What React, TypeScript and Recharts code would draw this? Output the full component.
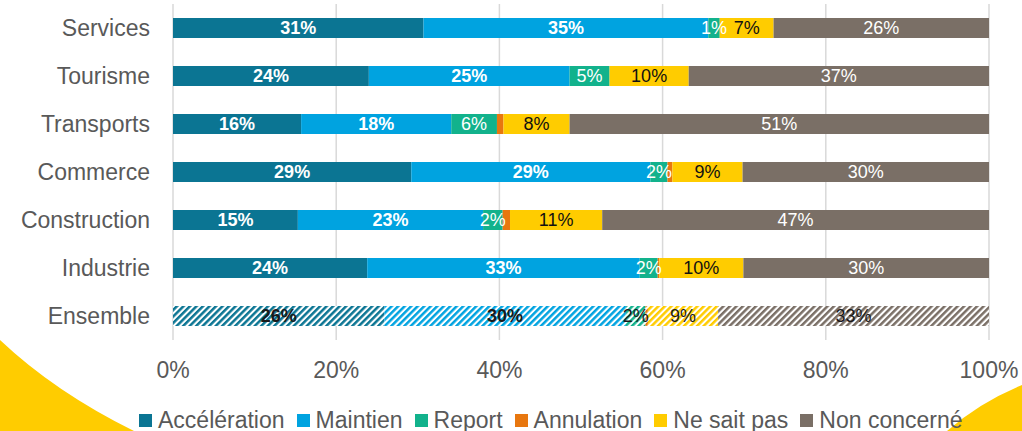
import { Bar, BarChart, CartesianGrid, Cell, LabelList, Legend, XAxis, YAxis } from "recharts";

const categories = ["Services", "Tourisme", "Transports", "Commerce", "Construction", "Industrie", "Ensemble"];
const acceleration = [30.7, 24.0, 15.7, 29.2, 15.3, 23.8, 25.9];
const maintien = [34.9, 24.6, 18.4, 29.3, 22.7, 33.4, 29.6];
const report = [1.4, 4.9, 5.6, 2.1, 2.4, 2.2, 2.4];
const annulation = [0, 0, 0.8, 0.6, 0.9, 0.2, 0.3];
const neSaitPas = [6.6, 9.7, 8.1, 8.6, 11.3, 10.3, 8.6];
const nonConcerne = [26.4, 36.8, 51.4, 30.2, 47.4, 30.1, 33.2];
const xTicks = [0, 20, 40, 60, 80, 100];

const data = categories.map((name, i) => ({
  name,
  acceleration: acceleration[i],
  maintien: maintien[i],
  report: report[i],
  annulation: annulation[i],
  neSaitPas: neSaitPas[i],
  nonConcerne: nonConcerne[i],
}));

const series = [
  { key: "acceleration", name: "Accélération", color: "#0B7593", text: "#fff", bold: true, label: true },
  { key: "maintien", name: "Maintien", color: "#00A3E0", text: "#fff", bold: true, label: true },
  { key: "report", name: "Report", color: "#12B28C", text: "#fff", bold: false, label: true },
  { key: "annulation", name: "Annulation", color: "#E8770F", text: "#fff", bold: false, label: false },
  { key: "neSaitPas", name: "Ne sait pas", color: "#FFCC00", text: "#111", bold: false, label: true },
  { key: "nonConcerne", name: "Non concerné", color: "#7A6F66", text: "#fff", bold: false, label: true },
];

const FONT = "'Liberation Sans', Arial, sans-serif";
const GREY = "#595959";
const HATCHED = categories.length - 1;

function makeLabel(s: (typeof series)[number]) {
  return (props: any) => {
    const { x, y, width, height, value, index } = props;
    if (!value) return null;
    const hatched = index === HATCHED;
    return (
      <text
        x={Number(x) + Number(width) / 2}
        y={Number(y) + Number(height) / 2}
        textAnchor="middle"
        dominantBaseline="central"
        fill={hatched ? "#1a1a1a" : s.text}
        fontSize={18}
        fontWeight={s.bold ? 700 : 400}
        fontFamily={FONT}
      >
        {Math.round(Number(value))}%
      </text>
    );
  };
}

function renderLegend() {
  return (
    <div style={{ display: "flex", fontFamily: FONT, fontSize: 23, color: GREY, lineHeight: "26px", whiteSpace: "nowrap" }}>
      {series.map((s) => (
        <span key={s.key} style={{ display: "inline-flex", alignItems: "center", marginRight: 12 }}>
          <span style={{ width: 13, height: 13, background: s.color, marginRight: 6, display: "inline-block" }} />
          {s.name}
        </span>
      ))}
    </div>
  );
}

export default function App() {
  return (
    <div style={{ position: "absolute", left: 0, top: 0, width: 1022, height: 431, overflow: "hidden", background: "#fff" }}>
      <svg width={1022} height={431} style={{ position: "absolute", left: 0, top: 0 }}>
        <path d="M0,340 Q55,392 134,431 L0,431 Z" fill="#FFCC00" />
        <path d="M1022,385 Q980,402 947,431 L1022,431 Z" fill="#FFCC00" />
      </svg>
      <div style={{ position: "absolute", left: 0, top: 0 }}>
        <BarChart
          width={1022}
          height={431}
          data={data}
          layout="vertical"
          barSize={20}
          margin={{ top: 4, right: 33, left: 0, bottom: 0 }}
          style={{ fontFamily: FONT }}
        >
          <defs>
            {series.map((s) => (
              <pattern
                key={s.key}
                id={`hatch-${s.key}`}
                patternUnits="userSpaceOnUse"
                width={4.6}
                height={4.6}
                patternTransform="rotate(45)"
              >
                <rect width={4.6} height={4.6} fill="#fff" />
                <rect width={2.5} height={4.6} fill={s.color} />
              </pattern>
            ))}
          </defs>
          <CartesianGrid horizontal={false} stroke="#D9D9D9" strokeWidth={1.5} />
          <XAxis
            type="number"
            domain={[0, 100]}
            ticks={xTicks}
            tickFormatter={(v) => `${v}%`}
            axisLine={false}
            tickLine={false}
            height={65}
            tickMargin={16}
            tick={{ fill: GREY, fontSize: 23, fontFamily: FONT }}
          />
          <YAxis
            type="category"
            dataKey="name"
            width={173}
            axisLine={false}
            tickLine={false}
            tickMargin={17}
            tick={{ fill: GREY, fontSize: 23, fontFamily: FONT }}
          />
          {series.map((s) => (
            <Bar key={s.key} dataKey={s.key} name={s.name} stackId="a" fill={s.color} isAnimationActive={false}>
              {data.map((_, i) => (
                <Cell key={i} fill={i === HATCHED ? `url(#hatch-${s.key})` : s.color} />
              ))}
              {s.label && <LabelList dataKey={s.key} content={makeLabel(s)} />}
            </Bar>
          ))}
          <Legend
            verticalAlign="bottom"
            content={renderLegend}
            wrapperStyle={{ left: 139, bottom: -2, width: "auto" }}
          />
        </BarChart>
      </div>
    </div>
  );
}
